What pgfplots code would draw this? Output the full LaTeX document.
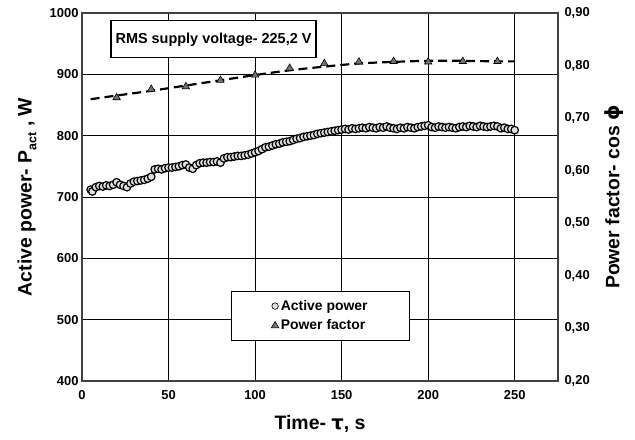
\documentclass[border=0pt]{standalone}
\usepackage{fontspec}
\setmainfont{Liberation Sans}
\newfontfamily\dejavu{DejaVu Sans}
\usepackage{pgfplots}
\usepackage{pgfplotstable}
\pgfplotsset{compat=1.18}

% active power, W
\pgfplotstableread{
t P
5 712
6 709
8 716
10 718
12 717
14 719
16 718
18 720
20 724
22 720
24 718
26 716
28 722
30 725
32 726
34 727
36 728
38 730
40 733
42 745
44 746
46 745
48 747
50 748
52 748
54 749
56 750
58 752
60 753
62 748
64 746
66 752
68 755
70 756
72 756
74 757
76 757
78 758
80 756
82 763
84 765
86 765
88 766
90 767
92 767
94 768
96 769
98 771
100 773
102 775
104 778
106 781
108 782
110 784
112 786
114 787
116 789
118 790
120 791
122 793
124 795
126 796
128 798
130 799
132 800
134 801
136 803
138 804
140 805
142 806
144 807
146 808
148 809
150 810
152 811
154 810
156 812
158 811
160 812
162 813
164 812
166 814
168 813
170 812
172 814
174 813
176 815
178 813
180 812
182 811
184 813
186 812
188 814
190 813
192 812
194 814
196 815
198 816
200 817
202 814
204 813
206 815
208 814
210 813
212 814
214 813
216 812
218 814
220 815
222 814
224 816
226 815
228 814
230 816
232 815
234 814
236 815
238 816
240 815
242 812
244 813
246 811
248 811
250 809
}\power

% power factor
\pgfplotstableread{
t pf
20 0.739
40 0.755
60 0.760
80 0.772
100 0.782
120 0.795
140 0.804
160 0.807
180 0.808
200 0.807
220 0.808
240 0.808
}\pf

% trend line of power factor
\pgfplotstableread{
t pf
5 0.736
20 0.743
40 0.752
60 0.762
80 0.772
100 0.782
120 0.791
140 0.798
160 0.804
180 0.807
200 0.809
220 0.809
240 0.808
250 0.808
}\trend

\begin{document}
\begin{tikzpicture}
\useasboundingbox (-82bp,-59bp) rectangle (553bp,381bp);
\pgfplotsset{
  every axis/.append style={
    width=476bp, height=368bp, scale only axis,
    xmin=0, xmax=275,
    tick label style={font=\fontsize{13}{15}\selectfont\bfseries},
    xticklabel style={yshift=-6bp},
    label style={font=\fontsize{19.5}{22}\selectfont\bfseries},
    major tick length=0pt,
    /pgf/number format/assume math mode=true,
    /pgf/number format/1000 sep={},
    axis line style={draw=black!75, line width=1.3pt},
  }
}
\begin{axis}[
    name=ax,
    ymin=400, ymax=1000,
    ytick={400,500,...,1000},
    xtick={0,50,...,250},
    grid=major,
    grid style={black, line width=0.8pt},
    xlabel={Time- {\dejavu\bfseries τ}, s},
    ylabel={Active power- P\raisebox{-0.45ex}{\fontsize{12.5}{12}\selectfont\bfseries act} , W},
    xlabel style={at={([yshift=-43bp]axis description cs:0.5,0)}, anchor=center},
    ylabel style={at={([xshift=-55bp]axis description cs:0,0.5)}, anchor=center},
]
\addplot[only marks, mark=*, mark size=3.8pt,
    mark options={fill=black!12, draw=black, line width=1.2pt}]
    table[x=t, y=P] {\power};
\node[draw=black, line width=1.2pt, fill=white, minimum width=205bp,
      minimum height=37bp, inner sep=0pt, font=\fontsize{14.5}{16}\selectfont\bfseries]
      at (axis cs:76,957) {RMS supply voltage- 225,2 V};
\end{axis}
\begin{axis}[
    axis x line=none,
    axis y line*=right,
    ymin=0.2, ymax=0.9,
    ytick={0.2,0.3,...,0.9},
    yticklabel style={xshift=3bp, /pgf/number format/.cd, fixed, fixed zerofill, precision=2, use comma},
    ylabel={Power factor- cos {\dejavu\bfseries ϕ}},
    ylabel style={at={([xshift=56bp]axis description cs:1,0.5)}, anchor=center},
    legend style={at={(0.501,0.177)}, anchor=center, draw=black,
      line width=1.2pt, font=\fontsize{14}{16}\selectfont\bfseries,
      inner xsep=40bp, inner ysep=7bp, row sep=4bp},
    legend cell align=left,
]
\addlegendimage{only marks, mark=*, mark size=3.3pt,
    mark options={fill=black!12, draw=black, line width=0.6pt}}
\addlegendentry{Active power}
\addplot[black, line width=2.2pt, dash pattern=on 9bp off 5bp, smooth, forget plot]
    table[x=t, y=pf] {\trend};
\addplot[only marks, mark=triangle*, mark size=4.3pt,
    mark options={fill=black!55, draw=black, line width=0.6pt}]
    table[x=t, y=pf] {\pf};
\addlegendentry{Power factor}
\end{axis}
\end{tikzpicture}
\end{document}
